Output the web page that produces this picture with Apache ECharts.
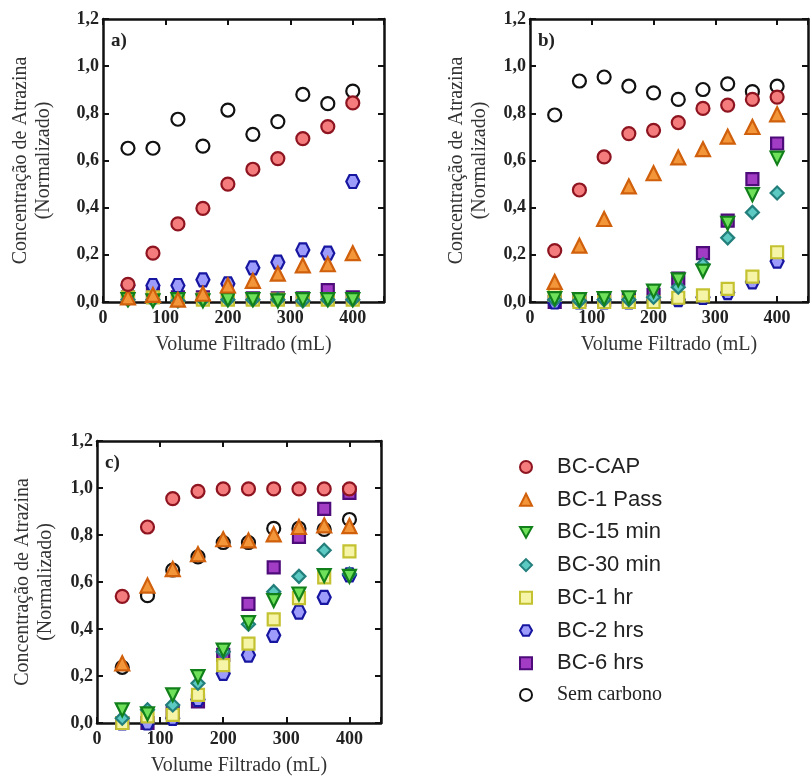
<!DOCTYPE html>
<html>
<head>
<meta charset="utf-8">
<script src="https://cdn.jsdelivr.net/npm/echarts@6/dist/echarts.min.js"></script>
<style>
  html, body { margin: 0; padding: 0; background: #fff; }
  #chart { width: 811px; height: 777px; }
</style>
</head>
<body>
<div id="chart"></div>
<script>
// filtered volume (mL) for every point
const volume = [40, 80, 120, 160, 200, 240, 280, 320, 360, 400];
const seriesNames = ['BC-CAP', 'BC-1 Pass', 'BC-15 min', 'BC-30 min', 'BC-1 hr', 'BC-2 hrs', 'BC-6 hrs', 'Sem carbono'];
const panelLetters = ['a)', 'b)', 'c)'];

// panel a
const capA  = [0.075, 0.207, 0.331, 0.397, 0.500, 0.563, 0.608, 0.693, 0.744, 0.844];
const passA = [0.020, 0.030, 0.010, 0.035, 0.070, 0.090, 0.120, 0.155, 0.160, 0.207];
const m15A  = [0.010, 0.005, 0.010, 0.005, 0.010, 0.010, 0.005, 0.010, 0.010, 0.010];
const m30A  = [0.010, 0.010, 0.005, 0.010, 0.010, 0.010, 0.010, 0.005, 0.010, 0.010];
const hr1A  = [0.020, 0.020, 0.010, 0.010, 0.010, 0.010, 0.010, 0.010, 0.010, 0.010];
const hr2A  = [0.070, 0.070, 0.070, 0.094, 0.077, 0.145, 0.169, 0.221, 0.207, 0.511];
const hr6A  = [0.020, 0.040, 0.020, 0.020, 0.020, 0.015, 0.015, 0.015, 0.050, 0.020];
const semA  = [0.652, 0.652, 0.775, 0.661, 0.814, 0.711, 0.765, 0.880, 0.841, 0.894];

// panel b
const capB  = [0.218, 0.475, 0.615, 0.714, 0.728, 0.761, 0.821, 0.835, 0.859, 0.869];
const passB = [0.085, 0.239, 0.352, 0.490, 0.546, 0.613, 0.648, 0.701, 0.742, 0.796];
const m15B  = [0.014, 0.010, 0.014, 0.018, 0.046, 0.094, 0.131, 0.334, 0.455, 0.610];
const m30B  = [0.010, 0.005, 0.010, 0.010, 0.020, 0.063, 0.159, 0.272, 0.380, 0.462];
const hr1B  = [0.030, 0.000, 0.000, 0.000, 0.000, 0.018, 0.028, 0.056, 0.108, 0.211];
const hr2B  = [0.000, 0.000, 0.000, 0.000, 0.005, 0.010, 0.020, 0.040, 0.085, 0.173];
const hr6B  = [0.000, 0.010, 0.010, 0.010, 0.030, 0.099, 0.207, 0.345, 0.521, 0.672];
const semB  = [0.793, 0.937, 0.954, 0.915, 0.887, 0.859, 0.901, 0.925, 0.892, 0.915];

// panel c
const capC  = [0.539, 0.834, 0.955, 0.986, 0.996, 0.996, 0.996, 0.996, 0.996, 0.996];
const passC = [0.254, 0.585, 0.655, 0.718, 0.782, 0.777, 0.803, 0.834, 0.841, 0.838];
const m15C  = [0.056, 0.039, 0.120, 0.197, 0.310, 0.427, 0.521, 0.549, 0.627, 0.624];
const m30C  = [0.020, 0.056, 0.077, 0.169, 0.303, 0.420, 0.559, 0.624, 0.735, 0.634];
const hr1C  = [0.000, 0.028, 0.035, 0.120, 0.246, 0.338, 0.441, 0.531, 0.620, 0.730];
const hr2C  = [0.000, 0.000, 0.020, 0.100, 0.211, 0.289, 0.373, 0.472, 0.535, 0.630];
const hr6C  = [0.000, 0.000, 0.050, 0.092, 0.290, 0.507, 0.662, 0.792, 0.911, 0.979];
const semC  = [0.237, 0.542, 0.651, 0.707, 0.768, 0.768, 0.828, 0.828, 0.824, 0.866];

const panels = [
  { 'BC-CAP': capA, 'BC-1 Pass': passA, 'BC-15 min': m15A, 'BC-30 min': m30A, 'BC-1 hr': hr1A, 'BC-2 hrs': hr2A, 'BC-6 hrs': hr6A, 'Sem carbono': semA },
  { 'BC-CAP': capB, 'BC-1 Pass': passB, 'BC-15 min': m15B, 'BC-30 min': m30B, 'BC-1 hr': hr1B, 'BC-2 hrs': hr2B, 'BC-6 hrs': hr6B, 'Sem carbono': semB },
  { 'BC-CAP': capC, 'BC-1 Pass': passC, 'BC-15 min': m15C, 'BC-30 min': m30C, 'BC-1 hr': hr1C, 'BC-2 hrs': hr2C, 'BC-6 hrs': hr6C, 'Sem carbono': semC }
];

// marker looks
const looks = {
  'BC-CAP':      { symbol: 'circle', size: 13, fill: '#f47c7c', line: '#8e1420' },
  'BC-1 Pass':   { symbol: 'triangle', size: 14, fill: '#f3963a', line: '#d0600c' },
  'BC-15 min':   { symbol: 'path://M-10,-8L10,-8L0,10Z', size: 13, fill: '#6fe05a', line: '#12801a' },
  'BC-30 min':   { symbol: 'diamond', size: 13, fill: '#5ccac2', line: '#237f7c' },
  'BC-1 hr':     { symbol: 'rect', size: 12, fill: '#f6f4a6', line: '#c4c230' },
  'BC-2 hrs':    { symbol: 'path://M-10,0L-5,-8.66L5,-8.66L10,0L5,8.66L-5,8.66Z', size: 13, fill: '#9d9cfb', line: '#1716a0' },
  'BC-6 hrs':    { symbol: 'rect', size: 12, fill: '#a23cc4', line: '#4e0c7a' },
  'Sem carbono': { symbol: 'circle', size: 13, fill: 'rgba(255,255,255,0)', line: '#111111' }
};
// order the marks are painted (bottom first)
const drawOrder = ['Sem carbono', 'BC-6 hrs', 'BC-2 hrs', 'BC-1 hr', 'BC-30 min', 'BC-15 min', 'BC-1 Pass', 'BC-CAP'];

const grids = [
  { left: 103, top: 19, width: 281, height: 283 },
  { left: 530, top: 19, width: 279, height: 283 },
  { left: 97, top: 441, width: 284, height: 282 }
];
const yNameGaps = [48, 39, 40];

const tickFont = { fontFamily: 'Liberation Serif', fontWeight: 'bold', fontSize: 18, color: '#222' };
const titleFont = { fontFamily: 'Liberation Serif', fontSize: 20, color: '#333' };
const frame = { show: true, onZero: false, lineStyle: { color: '#111', width: 2.5 } };
const ticks = { show: true, inside: true, length: 6, lineStyle: { color: '#111', width: 2 } };

let xAxis = [], yAxis = [], series = [], titles = [];
grids.forEach((g, i) => {
  xAxis.push({
    gridIndex: i, type: 'value', position: 'bottom', min: 0, max: 450, interval: 100,
    axisLine: frame, axisTick: ticks, splitLine: { show: false },
    axisLabel: Object.assign({ margin: 7, formatter: v => (v % 100 === 0 ? String(v) : '') }, tickFont),
    name: 'Volume Filtrado (mL)', nameLocation: 'middle', nameGap: 33, nameTextStyle: titleFont
  });
  xAxis.push({
    gridIndex: i, type: 'value', position: 'top', min: 0, max: 450, interval: 100,
    axisLine: frame, axisTick: ticks, splitLine: { show: false }, axisLabel: { show: false }
  });
  yAxis.push({
    gridIndex: i, type: 'value', position: 'left', min: 0, max: 1.2, interval: 0.2,
    axisLine: frame, axisTick: ticks, splitLine: { show: false },
    axisLabel: Object.assign({ margin: 4, formatter: v => v.toFixed(1).replace('.', ',') }, tickFont),
    name: 'Concentração de Atrazina\n(Normalizado)', nameLocation: 'middle', nameRotate: 90, nameGap: yNameGaps[i],
    nameTextStyle: Object.assign({ lineHeight: 23 }, titleFont)
  });
  yAxis.push({
    gridIndex: i, type: 'value', position: 'right', min: 0, max: 1.2, interval: 0.2,
    axisLine: frame, axisTick: ticks, splitLine: { show: false }, axisLabel: { show: false }
  });
  titles.push({
    text: panelLetters[i], left: g.left + 8, top: g.top + 13, padding: 0,
    textStyle: { fontFamily: 'Liberation Serif', fontWeight: 'bold', fontSize: 19, color: '#222' }
  });
  drawOrder.forEach(name => {
    const lk = looks[name];
    series.push({
      name: name, type: 'scatter', xAxisIndex: i * 2, yAxisIndex: i * 2, clip: false,
      symbol: lk.symbol, symbolSize: lk.size,
      itemStyle: { color: lk.fill, borderColor: lk.line, borderWidth: 2.2, opacity: 1 },
      emphasis: { disabled: true },
      data: volume.map((v, k) => [v, panels[i][name][k]])
    });
  });
});

const chart = echarts.init(document.getElementById('chart'));
chart.setOption({
  animation: false,
  backgroundColor: '#fff',
  title: titles,
  grid: grids,
  xAxis: xAxis,
  yAxis: yAxis,
  legend: {
    orient: 'vertical', left: 519, top: 456, padding: 0, itemGap: 10.7,
    itemWidth: 12, itemHeight: 12, selectedMode: false,
    data: seriesNames,
    formatter: n => (n === 'Sem carbono' ? '{serif|' + n + '}' : n),
    textStyle: {
      fontFamily: 'Liberation Sans', fontSize: 22, color: '#222', lineHeight: 20, padding: [0, 0, 0, 20],
      rich: { serif: { fontFamily: 'Liberation Serif', fontSize: 20, color: '#222' } }
    }
  },
  series: series
});
</script>
</body>
</html>
